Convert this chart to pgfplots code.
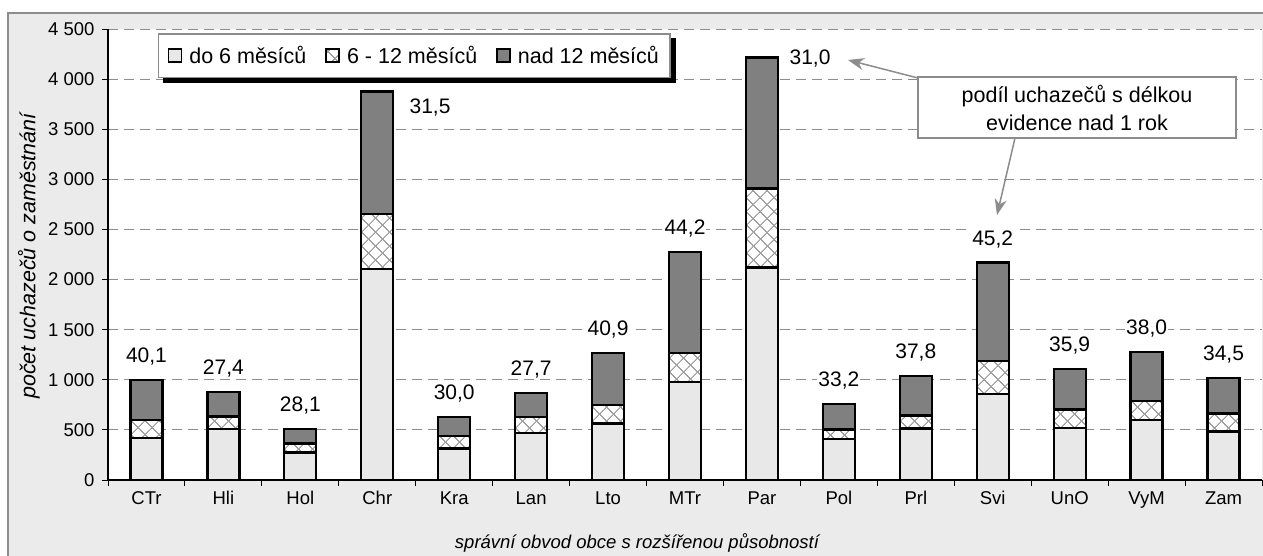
\documentclass[border=0pt]{standalone}
\usepackage{fontspec}
\setmainfont{Liberation Sans}
\usepackage{pgfplots}
\pgfplotsset{compat=1.18}
\usepackage{pgfplotstable}
\usetikzlibrary{patterns.meta,arrows.meta}
\definecolor{frameg}{RGB}{235,235,235}
\definecolor{frameb}{RGB}{140,140,140}
\definecolor{lowg}{RGB}{232,232,232}
\definecolor{topg}{RGB}{128,128,128}
\definecolor{gridg}{RGB}{140,140,140}
\definecolor{hatchg}{RGB}{160,160,160}
\newcommand\tickfont{\fontsize{18.5pt}{22pt}\selectfont}
\newcommand\labfont{\fontsize{21pt}{25pt}\selectfont}
\pgfplotstableread{
x  a    b   c    lab
1  420  180 400  40,1
2  510  125 240  27,4
3  275  90  145  28,1
4  2105 550 1220 {}
5  315  125 190  30,0
6  470  160 240  27,7
7  565  185 520  40,9
8  975  295 1005 44,2
9  2120 790 1305 {}
10 410  95  250  33,2
11 515  130 395  37,8
12 855  335 980  45,2
13 520  185 400  35,9
14 600  190 485  38,0
15 485  180 355  34,5
}\data
\begin{document}
\begin{tikzpicture}
\useasboundingbox (0,0) rectangle (1263pt,-555pt);
\fill[white] (0,0) rectangle (1263pt,-555pt);
\draw[frameb, line width=2pt, fill=frameg] (8pt,-13pt) rectangle (1290pt,-580pt);
\begin{axis}[
  at={(108pt,-480pt)}, anchor=south west,
  scale only axis, width=1154pt, height=451pt,
  xmin=0.5, xmax=15.5, ymin=0, ymax=4500,
  ybar stacked, bar width=32pt,
  axis background/.style={fill=white},
  axis x line*=bottom, axis y line*=left,
  axis line style={black, line width=1.3pt},
  xtick={0.5,1.5,...,15.5}, xticklabels={},
  extra x ticks={1,...,15},
  extra x tick labels={CTr,Hli,Hol,Chr,Kra,Lan,Lto,MTr,Par,Pol,Prl,Svi,UnO,VyM,Zam},
  extra x tick style={major tick length=0pt, tick style={draw=none}},
  xticklabel style={yshift=-8pt},
  yticklabel style={xshift=-4pt},
  ytick={0,500,...,4500},
  yticklabels={0,500,1~000,1~500,2~000,2~500,3~000,3~500,4~000,4~500},
  tick align=outside, major tick length=6pt,
  tick style={black, line width=1pt},
  tick label style={font=\tickfont},
  ymajorgrids, major grid style={gridg, line width=1pt, dash pattern=on 10pt off 6pt},
  xlabel={správní obvod obce s rozšířenou působností},
  xlabel style={at={(axis description cs:0.4584,-0.1397)}, anchor=center, font=\tickfont\itshape},
  ylabel={počet uchazečů o zaměstnání},
  ylabel style={at={(axis description cs:-0.0685,0.4967)}, anchor=center, font=\fontsize{21.5pt}{25pt}\selectfont\itshape},
  legend style={name=leg, at={(axis description cs:0.0433,0.991)}, anchor=north west,
    draw=frameb, line width=1.5pt, fill=white, font=\fontsize{21.5pt}{25pt}\selectfont,
    legend columns=3, inner xsep=9pt, inner ysep=10.5pt,
    /tikz/every odd column/.append style={column sep=5pt},
    /tikz/every even column/.append style={column sep=17pt}},
  legend image code/.code={\draw[#1, line width=1.6pt] (0pt,-6.5pt) rectangle (13pt,6.5pt);},
]
\addplot[fill=lowg, draw=black, line width=2.3pt] table[x=x,y=a]{\data};
\addlegendentry{do 6 měsíců}
\addplot[fill=white, draw=black, line width=2.3pt,
  postaction={pattern={Hatch[angle=45,distance=10.5pt,line width=1.2pt]}, pattern color=hatchg}] table[x=x,y=b]{\data};
\addlegendentry{6 - 12 měsíců}
\addplot[fill=topg, draw=black, line width=2.3pt,
  visualization depends on={\thisrow{c} \as \segc},
  nodes near coords, point meta=explicit symbolic,
  every node near coord/.append style={anchor=base, yshift={17.5pt+0.05011pt*\segc}, fill=white, text=black, inner sep=1pt, font=\labfont}]
  table[x=x,y=c,meta=lab]{\data};
\addlegendentry{nad 12 měsíců}
\node[fill=white, inner sep=1pt, font=\labfont] at (axis cs:4.686,3720) {31,5};
\node[fill=white, inner sep=1pt, font=\labfont] at (axis cs:9.625,4210) {31,0};
\end{axis}
\fill[black] ([yshift=-5pt]leg.north east) rectangle ([xshift=5pt,yshift=-5pt]leg.south east);
\fill[black] ([xshift=5pt]leg.south west) rectangle ([xshift=5pt,yshift=-5pt]leg.south east);
\draw[frameb, line width=1.5pt, -{Stealth[length=16pt,width=12pt,inset=5pt]}] (918pt,-78pt) -- (848pt,-60pt);
\draw[frameb, line width=1.5pt, -{Stealth[length=16pt,width=12pt,inset=5pt]}] (1015pt,-138pt) -- (997pt,-215pt);
\node[draw=frameb, line width=1.5pt, fill=white, minimum width=318pt, minimum height=61pt, inner sep=0pt, align=center, font=\fontsize{21.5pt}{28pt}\selectfont] at (1077pt,-107.5pt) {podíl uchazečů s délkou\\evidence nad 1 rok};
\end{tikzpicture}
\end{document}
